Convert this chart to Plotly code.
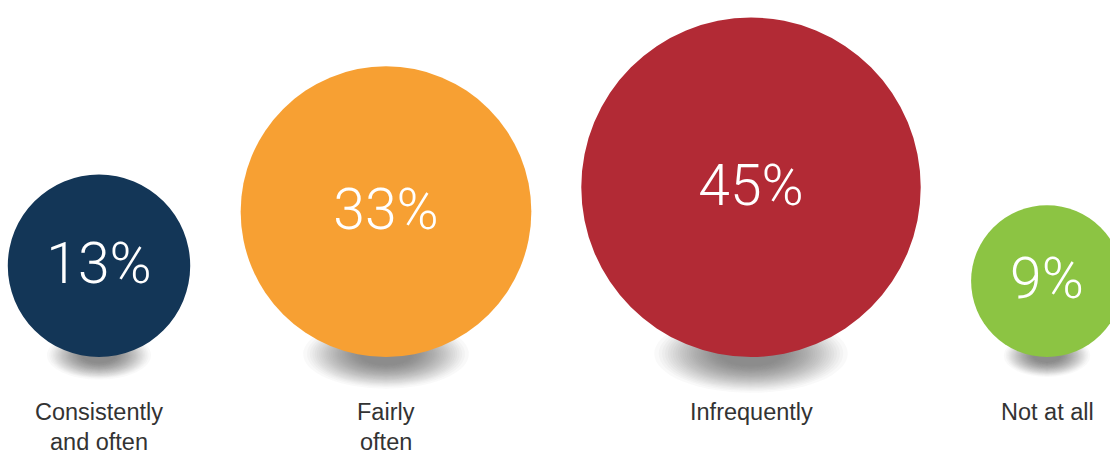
import math
import plotly.graph_objects as go

# ---- data ----
categories = ["Consistently and often", "Fairly often", "Infrequently", "Not at all"]
label_lines = [["Consistently", "and often"], ["Fairly", "often"], ["Infrequently"], ["Not at all"]]
values = [13, 33, 45, 9]
colors = ["#133657", "#F7A033", "#B22A35", "#8CC443"]

# ---- layout constants (pixel-space axes) ----
W, H = 1110, 454
centers_x = [99, 386, 751, 1047]
baseline = 357
K = 25.3  # radius scale: area proportional to value

fig = go.Figure()
shapes = []
radii = [K * math.sqrt(v) for v in values]

# soft drop shadows (stack of faint ellipses, denser toward the centre)
for cx, r in zip(centers_x, radii):
    hh = 0.19 * r + 7
    hw = 0.57 * r
    cyc = baseline - 0.02 * r
    n = 30
    for i in range(n):
        s = 1.0 - 0.7 * (i / n) ** 0.8
        shapes.append(dict(type="circle", xref="x", yref="y",
                           x0=cx - hw * s, x1=cx + hw * s,
                           y0=cyc - hh * s, y1=cyc + hh * s,
                           fillcolor="rgba(95,98,108,0.04)", line=dict(width=0),
                           layer="below"))

# circles
for cx, r, c in zip(centers_x, radii, colors):
    shapes.append(dict(type="circle", xref="x", yref="y",
                       x0=cx - r, x1=cx + r, y0=baseline - 2 * r, y1=baseline,
                       fillcolor=c, line=dict(width=0), layer="below"))

# percentage text
fig.add_trace(go.Scatter(
    x=centers_x,
    y=[baseline - r + 3 for r in radii],
    mode="text",
    text=[f"{v}%" for v in values],
    textposition="middle center",
    textfont=dict(family="Roboto", size=57, color="white", weight=300),
    hoverinfo="skip", showlegend=False,
))

annotations = []
for cx, lines in zip(centers_x, label_lines):
    for i, ln in enumerate(lines):
        annotations.append(dict(x=cx, y=412 + 30 * i, xref="x", yref="y",
                                text=ln, showarrow=False,
                                xanchor="center", yanchor="middle",
                                font=dict(family="Liberation Sans", size=23.5, color="#333333")))

fig.update_layout(
    width=W, height=H,
    margin=dict(l=0, r=0, t=0, b=0),
    paper_bgcolor="white", plot_bgcolor="white",
    shapes=shapes, annotations=annotations,
    xaxis=dict(range=[0, W], visible=False, fixedrange=True),
    yaxis=dict(range=[H, 0], visible=False, fixedrange=True),
    showlegend=False,
)

fig.write_html("out.html", config={"displayModeBar": False},
               post_script="document.body.style.margin='0';document.body.style.overflow='hidden';")
